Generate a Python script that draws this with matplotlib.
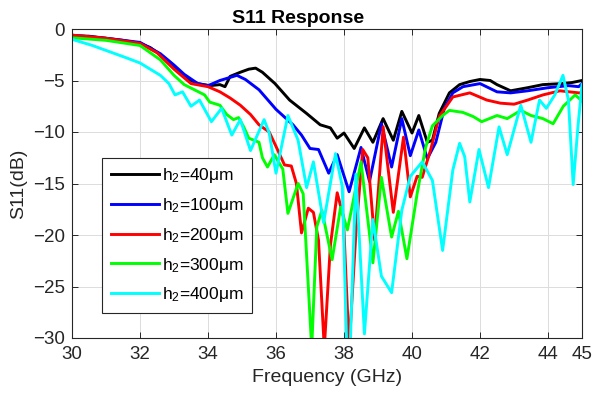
import matplotlib
matplotlib.use("Agg")
import matplotlib.pyplot as plt
import numpy as np

plt.rcParams["font.family"] = ["Liberation Sans", "DejaVu Sans"]
plt.rcParams["mathtext.fontset"] = "custom"
plt.rcParams["mathtext.rm"] = "Liberation Sans"
plt.rcParams["mathtext.it"] = "Liberation Sans"

# ---- S11 (dB) vs frequency (GHz), one pair of lists per h2 ----
f_40 = [30.0, 30.5, 31.0, 31.5, 32.0, 32.3, 32.6, 32.8, 33.0, 33.3, 33.5, 33.7, 34.05, 34.35,
        34.5, 34.65, 34.95, 35.2, 35.4, 35.6, 35.97, 36.4, 36.9, 37.3, 37.6, 37.8, 38.0,
        38.3, 38.6, 38.85, 39.15, 39.45, 39.7, 40.0, 40.2, 40.45, 40.6, 40.8, 41.1, 41.4,
        41.7, 42.0, 42.3, 42.5, 42.9, 43.4, 43.85, 44.4, 44.7, 45.0]
s_40 = [-0.65, -0.7, -0.9, -1.1, -1.4, -1.8, -2.5, -3.0, -3.6, -4.5, -5.0, -5.3, -5.5, -5.4,
        -5.6, -4.6, -4.2, -3.9, -3.8, -4.2, -5.3, -6.9, -8.2, -9.3, -9.6, -10.6, -10.1,
        -11.6, -9.6, -11.0, -8.7, -10.8, -8.0, -10.1, -8.4, -11.0, -10.8, -8.2, -6.2, -5.4,
        -5.1, -4.9, -5.0, -5.4, -6.0, -5.7, -5.4, -5.3, -5.2, -5.0]

f_100 = [30.0, 31.0, 32.0, 32.6, 33.0, 33.3, 33.7, 34.0, 34.35, 34.85, 35.1, 35.5, 36.0,
         36.5, 36.75, 37.0, 37.25, 37.55, 37.8, 38.15, 38.5, 38.75, 39.1, 39.4, 39.7,
         39.95, 40.2, 40.45, 40.7, 40.95, 41.2, 41.5, 42.0, 42.5, 42.9, 43.4, 44.0, 44.6,
         44.9, 45.0]
s_100 = [-0.6, -0.9, -1.3, -2.4, -3.5, -4.4, -5.3, -5.5, -5.0, -4.5, -4.9, -5.9, -7.8,
         -9.3, -10.3, -11.6, -11.7, -14.0, -12.2, -15.8, -11.5, -14.8, -9.2, -13.4, -8.7,
         -12.3, -9.8, -12.6, -11.0, -7.7, -6.2, -5.6, -5.3, -6.1, -6.2, -6.0, -5.7, -5.5,
         -5.6, -5.3]

f_200 = [30.0, 31.0, 32.0, 32.5, 33.0, 33.5, 34.0, 34.35, 34.65, 34.95, 35.25, 35.5, 35.8,
         36.0, 36.25, 36.45, 36.6, 36.75, 36.95, 37.1, 37.25, 37.42, 37.6, 37.8, 37.98,
         38.15, 38.35, 38.55, 38.7, 38.9, 39.15, 39.45, 39.75, 39.95, 40.15, 40.3, 40.55,
         40.8, 41.2, 41.7, 42.2, 42.6, 43.0, 43.4, 43.85, 44.35, 44.9, 45.0]
s_200 = [-0.6, -0.9, -1.4, -2.3, -3.9, -5.3, -5.6, -6.1, -6.7, -7.4, -8.3, -9.3, -10.0,
         -11.4, -13.2, -13.3, -15.0, -19.8, -17.4, -17.8, -20.5, -31.0, -21.0, -15.9, -18.2,
         -31.0, -19.8, -11.7, -12.5, -20.5, -9.5, -17.8, -10.5, -16.3, -14.3, -14.4, -11.7,
         -8.5, -6.6, -6.2, -6.9, -7.2, -7.3, -6.9, -6.4, -6.0, -6.2, -6.2]

f_300 = [30.0, 31.0, 32.0, 32.6, 33.0, 33.3, 33.6, 33.9, 34.05, 34.35, 34.55, 34.75, 34.9,
         35.05, 35.2, 35.35, 35.5, 35.6, 35.75, 35.95, 36.2, 36.35, 36.65, 36.8, 37.05,
         37.2, 37.35, 37.65, 37.9, 38.1, 38.5, 38.85, 39.1, 39.4, 39.6, 39.85, 40.15, 40.4,
         40.6, 40.9, 41.1, 41.5, 41.8, 42.05, 42.5, 42.8, 43.2, 43.5, 43.85, 44.15, 44.45,
         44.8, 45.0]
s_300 = [-0.85, -1.1, -1.6, -3.0, -4.5, -5.4, -5.9, -6.4, -7.1, -7.4, -8.3, -8.8, -8.6,
         -9.5, -10.6, -10.8, -11.0, -12.5, -13.4, -12.2, -13.6, -17.9, -15.0, -16.0, -31.0,
         -19.2, -17.6, -22.4, -17.3, -19.5, -12.9, -22.7, -14.4, -20.2, -17.7, -22.3, -16.0,
         -11.5, -9.4, -8.4, -7.9, -8.1, -8.5, -9.0, -8.4, -8.7, -7.9, -8.4, -8.7, -9.2,
         -7.5, -6.4, -7.0]

f_400 = [30.0, 30.6, 31.1, 31.6, 32.0, 32.3, 32.6, 32.85, 33.03, 33.25, 33.5, 33.75, 34.1,
         34.4, 34.7, 34.95, 35.25, 35.65, 35.8, 36.0, 36.35, 36.65, 36.9, 37.1, 37.4,
         37.75, 37.95, 38.08, 38.18, 38.35, 38.6, 38.85, 39.1, 39.4, 39.7, 39.95, 40.3,
         40.6, 40.9, 41.2, 41.4, 41.55, 41.7, 41.97, 42.25, 42.56, 42.8, 43.2, 43.5,
         43.75, 43.95, 44.2, 44.44, 44.6, 44.74, 44.88, 45.0]
s_400 = [-1.0, -1.6, -2.2, -2.8, -3.3, -3.9, -4.5, -5.3, -6.4, -6.1, -7.5, -6.9, -9.0,
         -7.7, -10.3, -8.8, -11.8, -8.8, -10.1, -14.0, -8.4, -10.8, -15.4, -12.9, -18.8,
         -12.1, -15.3, -31.0, -31.0, -14.1, -29.6, -18.5, -24.0, -25.6, -17.6, -14.3, -12.9,
         -14.7, -21.5, -13.7, -11.1, -12.4, -16.8, -11.7, -15.4, -9.5, -12.2, -7.4, -11.0,
         -6.9, -7.7, -6.4, -4.5, -6.9, -15.1, -9.5, -5.4]

labels = ["h$_2$=40μm", "h$_2$=100μm", "h$_2$=200μm", "h$_2$=300μm", "h$_2$=400μm"]
colors = ["#000000", "#0000ff", "#ff0000", "#00ff00", "#00ffff"]
x_ticks = [30, 32, 34, 36, 38, 40, 42, 44, 45]
y_ticks = [0, -5, -10, -15, -20, -25, -30]

fig = plt.figure(figsize=(5.97, 4.0), dpi=100)
ax = fig.add_axes([0.1206, 0.155, 0.8543, 0.7725])

series = [(f_40, s_40), (f_100, s_100), (f_200, s_200), (f_300, s_300), (f_400, s_400)]
for (f, s), c, lab in zip(series, colors, labels):
    ax.plot(f, s, color=c, lw=2.1, label=lab, solid_joinstyle="round")

ax.set_xlim(30, 45)
ax.set_ylim(-30, 0)
ax.set_xticks(x_ticks)
ax.set_yticks(y_ticks)
ax.grid(True, color="#dcdcdc", lw=0.7)
ax.set_axisbelow(True)
ax.tick_params(direction="in", top=True, right=True, length=4, labelsize=13.5,
               colors="#262626", width=0.7)
ax.tick_params(axis="x", pad=6)
ax.tick_params(axis="y", pad=5)
for sp in ax.spines.values():
    sp.set_color("#262626")
    sp.set_linewidth(0.8)

ax.set_xlabel("Frequency (GHz)", fontsize=14, color="#262626", labelpad=4)
ax.set_ylabel("S11(dB)", fontsize=14, color="#262626", labelpad=4)
# title sits centred on the figure rather than the axes
ax.set_title("S11 Response", fontsize=14, fontweight="bold", pad=4, x=0.443)

leg = ax.legend(loc="lower left", bbox_to_anchor=(0.059, 0.081), borderaxespad=0,
                fontsize=12.5, fancybox=False, framealpha=1, edgecolor="#262626",
                handlelength=2.75, handletextpad=0.2, labelspacing=0.62,
                borderpad=0.5)
leg.get_frame().set_linewidth(0.8)

fig.savefig("out.png", dpi=100)
